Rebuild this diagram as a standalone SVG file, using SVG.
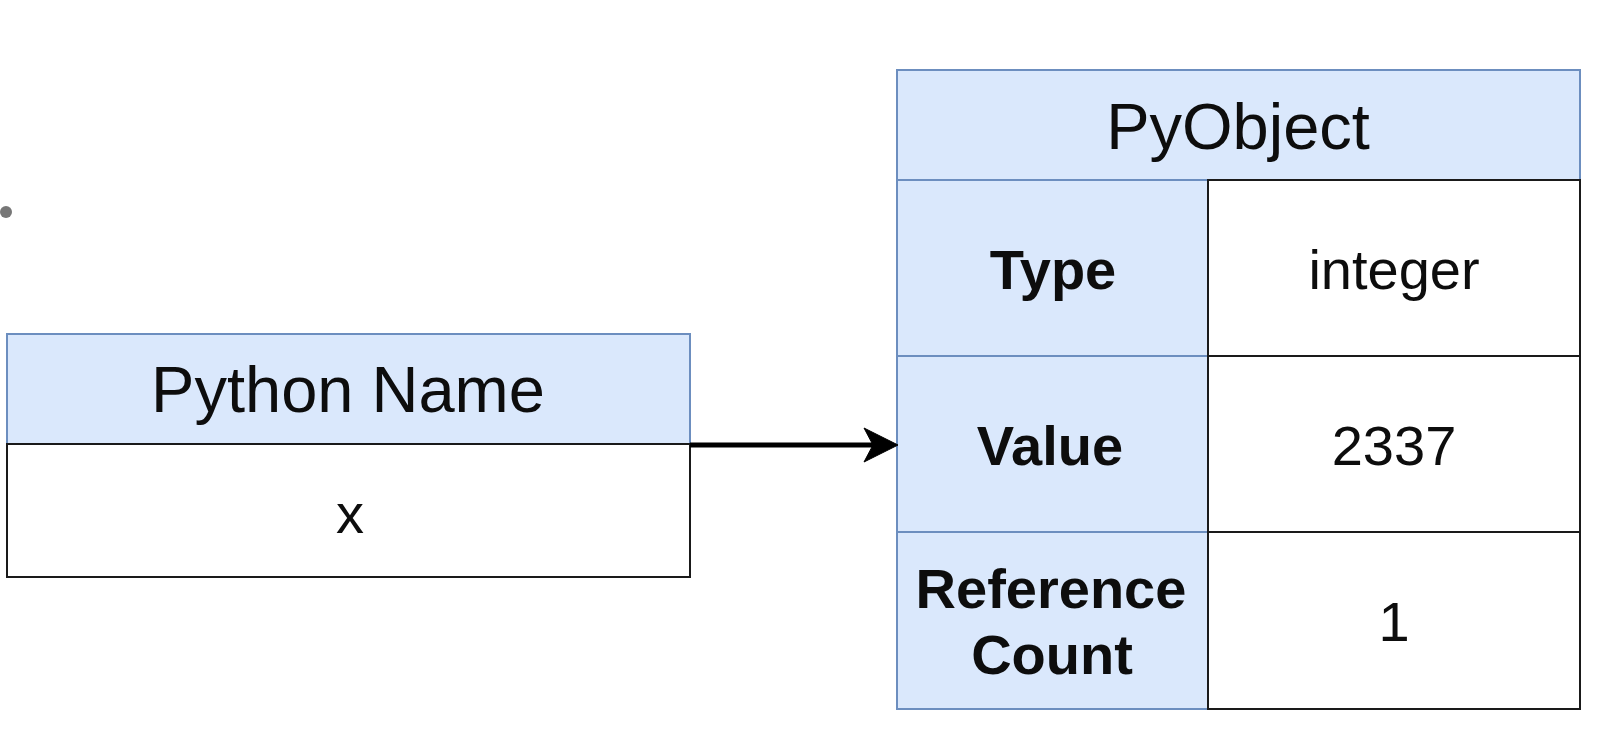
<svg xmlns="http://www.w3.org/2000/svg" width="1598" height="742" viewBox="0 0 1598 742">
<style>
.hdr{fill:#dae8fc;stroke:#6c8ebf;stroke-width:2}
.val{fill:#ffffff;stroke:#1a1a1a;stroke-width:2}
.t{font-family:"Liberation Sans",Arial,sans-serif;fill:#0d0d0d;text-anchor:middle}
.h{font-size:65px}
.c{font-size:56px}
.b{font-size:56px;font-weight:bold}
</style>
<rect width="1598" height="742" fill="#ffffff"/>
<circle cx="6" cy="212" r="6" fill="#777777"/>
<g id="python-name">
<rect class="hdr" x="7" y="334" width="683" height="110"/>
<rect class="val" x="7" y="444" width="683" height="133"/>
<text class="t h" x="348" y="412">Python Name</text>
<text class="t c" x="350" y="533">x</text>
</g>
<g id="pyobject">
<rect class="hdr" x="897" y="70" width="683" height="110"/>
<text class="t h" x="1238" y="149">PyObject</text>
<rect class="hdr" x="897" y="180" width="311" height="176"/>
<rect class="hdr" x="897" y="356" width="311" height="176"/>
<rect class="hdr" x="897" y="532" width="311" height="177"/>
<rect class="val" x="1208" y="180" width="372" height="176"/>
<rect class="val" x="1208" y="356" width="372" height="176"/>
<rect class="val" x="1208" y="532" width="372" height="177"/>
<text class="t b" x="1053" y="289">Type</text>
<text class="t c" x="1394" y="289">integer</text>
<text class="t b" x="1050" y="465">Value</text>
<text class="t c" x="1394" y="465">2337</text>
<text class="t b" x="1051" y="608">Reference</text>
<text class="t b" x="1052" y="674">Count</text>
<text class="t c" x="1394" y="641">1</text>
</g>
<g id="connectors">
<line x1="690" y1="445" x2="876" y2="445" stroke="#000" stroke-width="5"/>
<path d="M898,445 L864,428 L873,445 L864,462 Z" fill="#000" stroke="#000" stroke-width="1"/>
</g>
</svg>
